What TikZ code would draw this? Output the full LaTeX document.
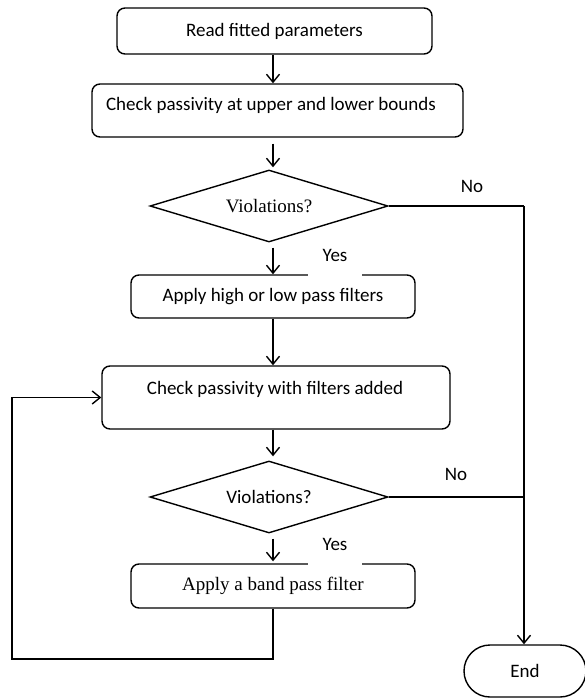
\documentclass[tikz,border=0pt]{standalone}
\usepackage{fontspec}
\setmainfont{Carlito}
\newfontfamily\timesfont{Liberation Serif}
\usetikzlibrary{shapes.geometric,shapes.misc,arrows.meta}
\begin{document}
\begin{tikzpicture}[x=1pt,y=-1pt,
  every node/.style={font=\fontsize{19}{23}\selectfont},
  boxs/.style={draw,line width=1.4pt,rounded corners=8pt,inner sep=0pt},
  decis/.style={draw,diamond,aspect=3.3,line width=1.4pt,inner sep=0pt},
  endbox/.style={draw,line width=1.4pt,rounded rectangle,inner sep=0pt},
  lbl/.style={inner sep=0pt},
  yeslbl/.style={fill=white,inner sep=0pt,minimum width=54pt,text height=10pt,text depth=15pt,anchor=south},
  conn/.style={line width=1.4pt},
  arr/.style={line width=1.4pt,-{Straight Barb[length=8pt,width=13pt,line width=1.4pt]}}
]
\useasboundingbox (0,0) rectangle (585,699);
\fill[white] (0,0) rectangle (585,699);
\coordinate (ax) at (273,0);
\coordinate (rx) at (524,0);
\coordinate (lx) at (12,0);
\coordinate (ly) at (0,659);

\node[boxs,minimum width=315pt,minimum height=46pt] (b1) at (274.5,31) {Read fitted parameters};
\node[boxs,minimum width=371pt,minimum height=53pt] (b2) at (277.5,110.5) {};
\node[lbl] at (271,105) {Check passivity at upper and lower bounds};
\node[decis,minimum width=238pt,minimum height=72pt] (d1) at (269,206) {\timesfont Violations?};
\node[boxs,minimum width=284pt,minimum height=43pt] (b3) at (273,296.5) {Apply high or low pass filters};
\node[boxs,minimum width=348pt,minimum height=63pt] (b4) at (276,397.5) {};
\node[lbl] at (275,389) {Check passivity with filters added};
\node[decis,minimum width=238pt,minimum height=72pt] (d2) at (269,497) {Violations?};
\node[boxs,minimum width=284pt,minimum height=44pt] (b5) at (273,586) {\timesfont Apply a band pass filter};
\node[endbox,minimum width=122pt,minimum height=52pt] (e) at (525,671) {End};

\node[yeslbl] (y1) at (335,276.3) {Yes};
\node[yeslbl] (y2) at (335,565.3) {Yes};
\node[lbl] (n1) at (472,186) {No};
\node[lbl] (n2) at (456,474) {No};

\draw[arr] (b1.south -| ax) -- (b2.north -| ax);
\draw[arr,shorten <=6pt,shorten >=2pt] (b2.south -| ax) -- (d1.north -| ax);
\draw[arr,shorten <=5pt] (d1.south -| ax) -- (b3.north -| ax);
\draw[arr] (b3.south -| ax) -- (b4.north -| ax);
\draw[arr,shorten >=4pt] (b4.south -| ax) -- (d2.north -| ax);
\draw[arr,shorten <=5pt,shorten >=2pt] (d2.south -| ax) -- (b5.north -| ax);
\draw[conn] (d1.east) -- (d1.east -| rx);
\draw[arr] (d1.east -| rx) -- (e.north -| rx);
\draw[conn] (d2.east) -- (d2.east -| rx);
\draw[arr] (b5.south -| ax) -- (ax |- ly) -- (lx |- ly) -- (lx |- b4.west) -- (b4.west);
\end{tikzpicture}
\end{document}
